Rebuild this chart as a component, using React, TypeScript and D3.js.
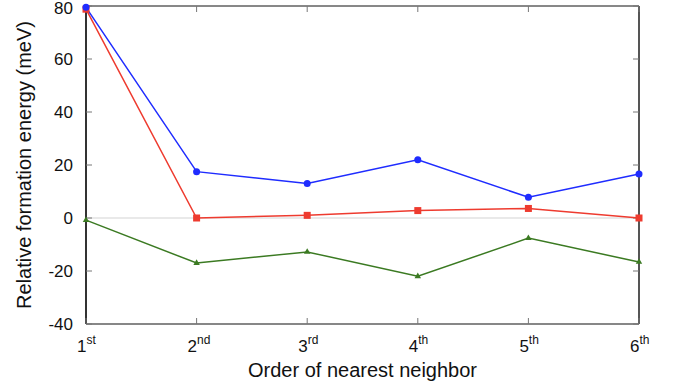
import * as d3 from "d3";

const orders = ["1", "2", "3", "4", "5", "6"];
const suffixes = ["st", "nd", "rd", "th", "th", "th"];
const blueValues = [79.5, 17.5, 13, 22, 7.8, 16.6];
const redValues = [78.8, 0, 1, 2.8, 3.6, 0];
const greenValues = [-0.8, -17, -12.8, -22, -7.6, -16.6];
const yTicks = [-40, -20, 0, 20, 40, 60, 80];

const W = 685;
const H = 389;
const left = 86;
const right = 639;
const top = 6;
const bottom = 324;
const font = "Helvetica, Arial, 'Liberation Sans', sans-serif";

export default function App() {
  const x = d3.scalePoint<string>().domain(orders).range([left, right]);
  const y = d3.scaleLinear().domain([-40, 80]).range([bottom, top]);

  const line = d3
    .line<number>()
    .x((_, i) => x(orders[i])!)
    .y((d) => y(d));

  const tri = d3.symbol().type(d3.symbolTriangle).size(18)();

  return (
    <svg
      width={W}
      height={H}
      style={{ position: "absolute", left: 0, top: 0 }}
      fontFamily={font}
    >
      <rect width={W} height={H} fill="#fff" />
      {/* zero line */}
      <line x1={left} x2={right} y1={y(0)} y2={y(0)} stroke="#e2e2e2" strokeWidth={1.5} />

      {/* frame */}
      <line x1={left} x2={right} y1={top} y2={top} stroke="#111" strokeWidth={1} />
      <line x1={left} x2={right} y1={bottom} y2={bottom} stroke="#111" strokeWidth={1.2} />
      <line x1={left} x2={left} y1={top} y2={bottom} stroke="#333" strokeWidth={2} />
      <line x1={right} x2={right} y1={top} y2={bottom} stroke="#555" strokeWidth={2} />

      {/* y ticks */}
      {yTicks.map((t) => (
        <g key={t}>
          <line x1={left} x2={left + 6} y1={y(t)} y2={y(t)} stroke="#777" />
          <line x1={right - 6} x2={right} y1={y(t)} y2={y(t)} stroke="#777" />
          <text x={left - 13} y={Math.max(y(t), 8)} dy="0.35em" textAnchor="end" fontSize={17} fill="#111">
            {t}
          </text>
        </g>
      ))}

      {/* x ticks */}
      {orders.map((o, i) => (
        <g key={o}>
          <line x1={x(o)} x2={x(o)} y1={bottom} y2={bottom - 6} stroke="#777" />
          <line x1={x(o)} x2={x(o)} y1={top} y2={top + 6} stroke="#777" />
          <text x={x(o)! - 9} y={352} textAnchor="start" fontSize={17} fill="#111">
            {o}
            <tspan fontSize={12} dy={-8}>
              {suffixes[i]}
            </tspan>
          </text>
        </g>
      ))}

      {/* series */}
      <path d={line(greenValues)!} fill="none" stroke="#3b7a22" strokeWidth={1.5} />
      <path d={line(redValues)!} fill="none" stroke="#ee3b2f" strokeWidth={1.5} />
      <path d={line(blueValues)!} fill="none" stroke="#1f2cff" strokeWidth={1.5} />

      {greenValues.map((v, i) => (
        <path key={i} d={tri!} transform={`translate(${x(orders[i])},${y(v)})`} fill="#3b7a22" />
      ))}
      {redValues.map((v, i) => (
        <rect key={i} x={x(orders[i])! - 3.5} y={y(v) - 3.5} width={7} height={7} fill="#ee3b2f" />
      ))}
      {blueValues.map((v, i) => (
        <circle key={i} cx={x(orders[i])} cy={y(v)} r={3.5} fill="#1f2cff" />
      ))}

      {/* axis titles */}
      <text
        transform={`translate(31,${(top + bottom) / 2}) rotate(-90)`}
        textAnchor="middle"
        fontSize={20}
        fill="#111"
      >
        Relative formation energy (meV)
      </text>
      <text x={(left + right) / 2} y={377} textAnchor="middle" fontSize={20} fill="#111">
        Order of nearest neighbor
      </text>
    </svg>
  );
}
